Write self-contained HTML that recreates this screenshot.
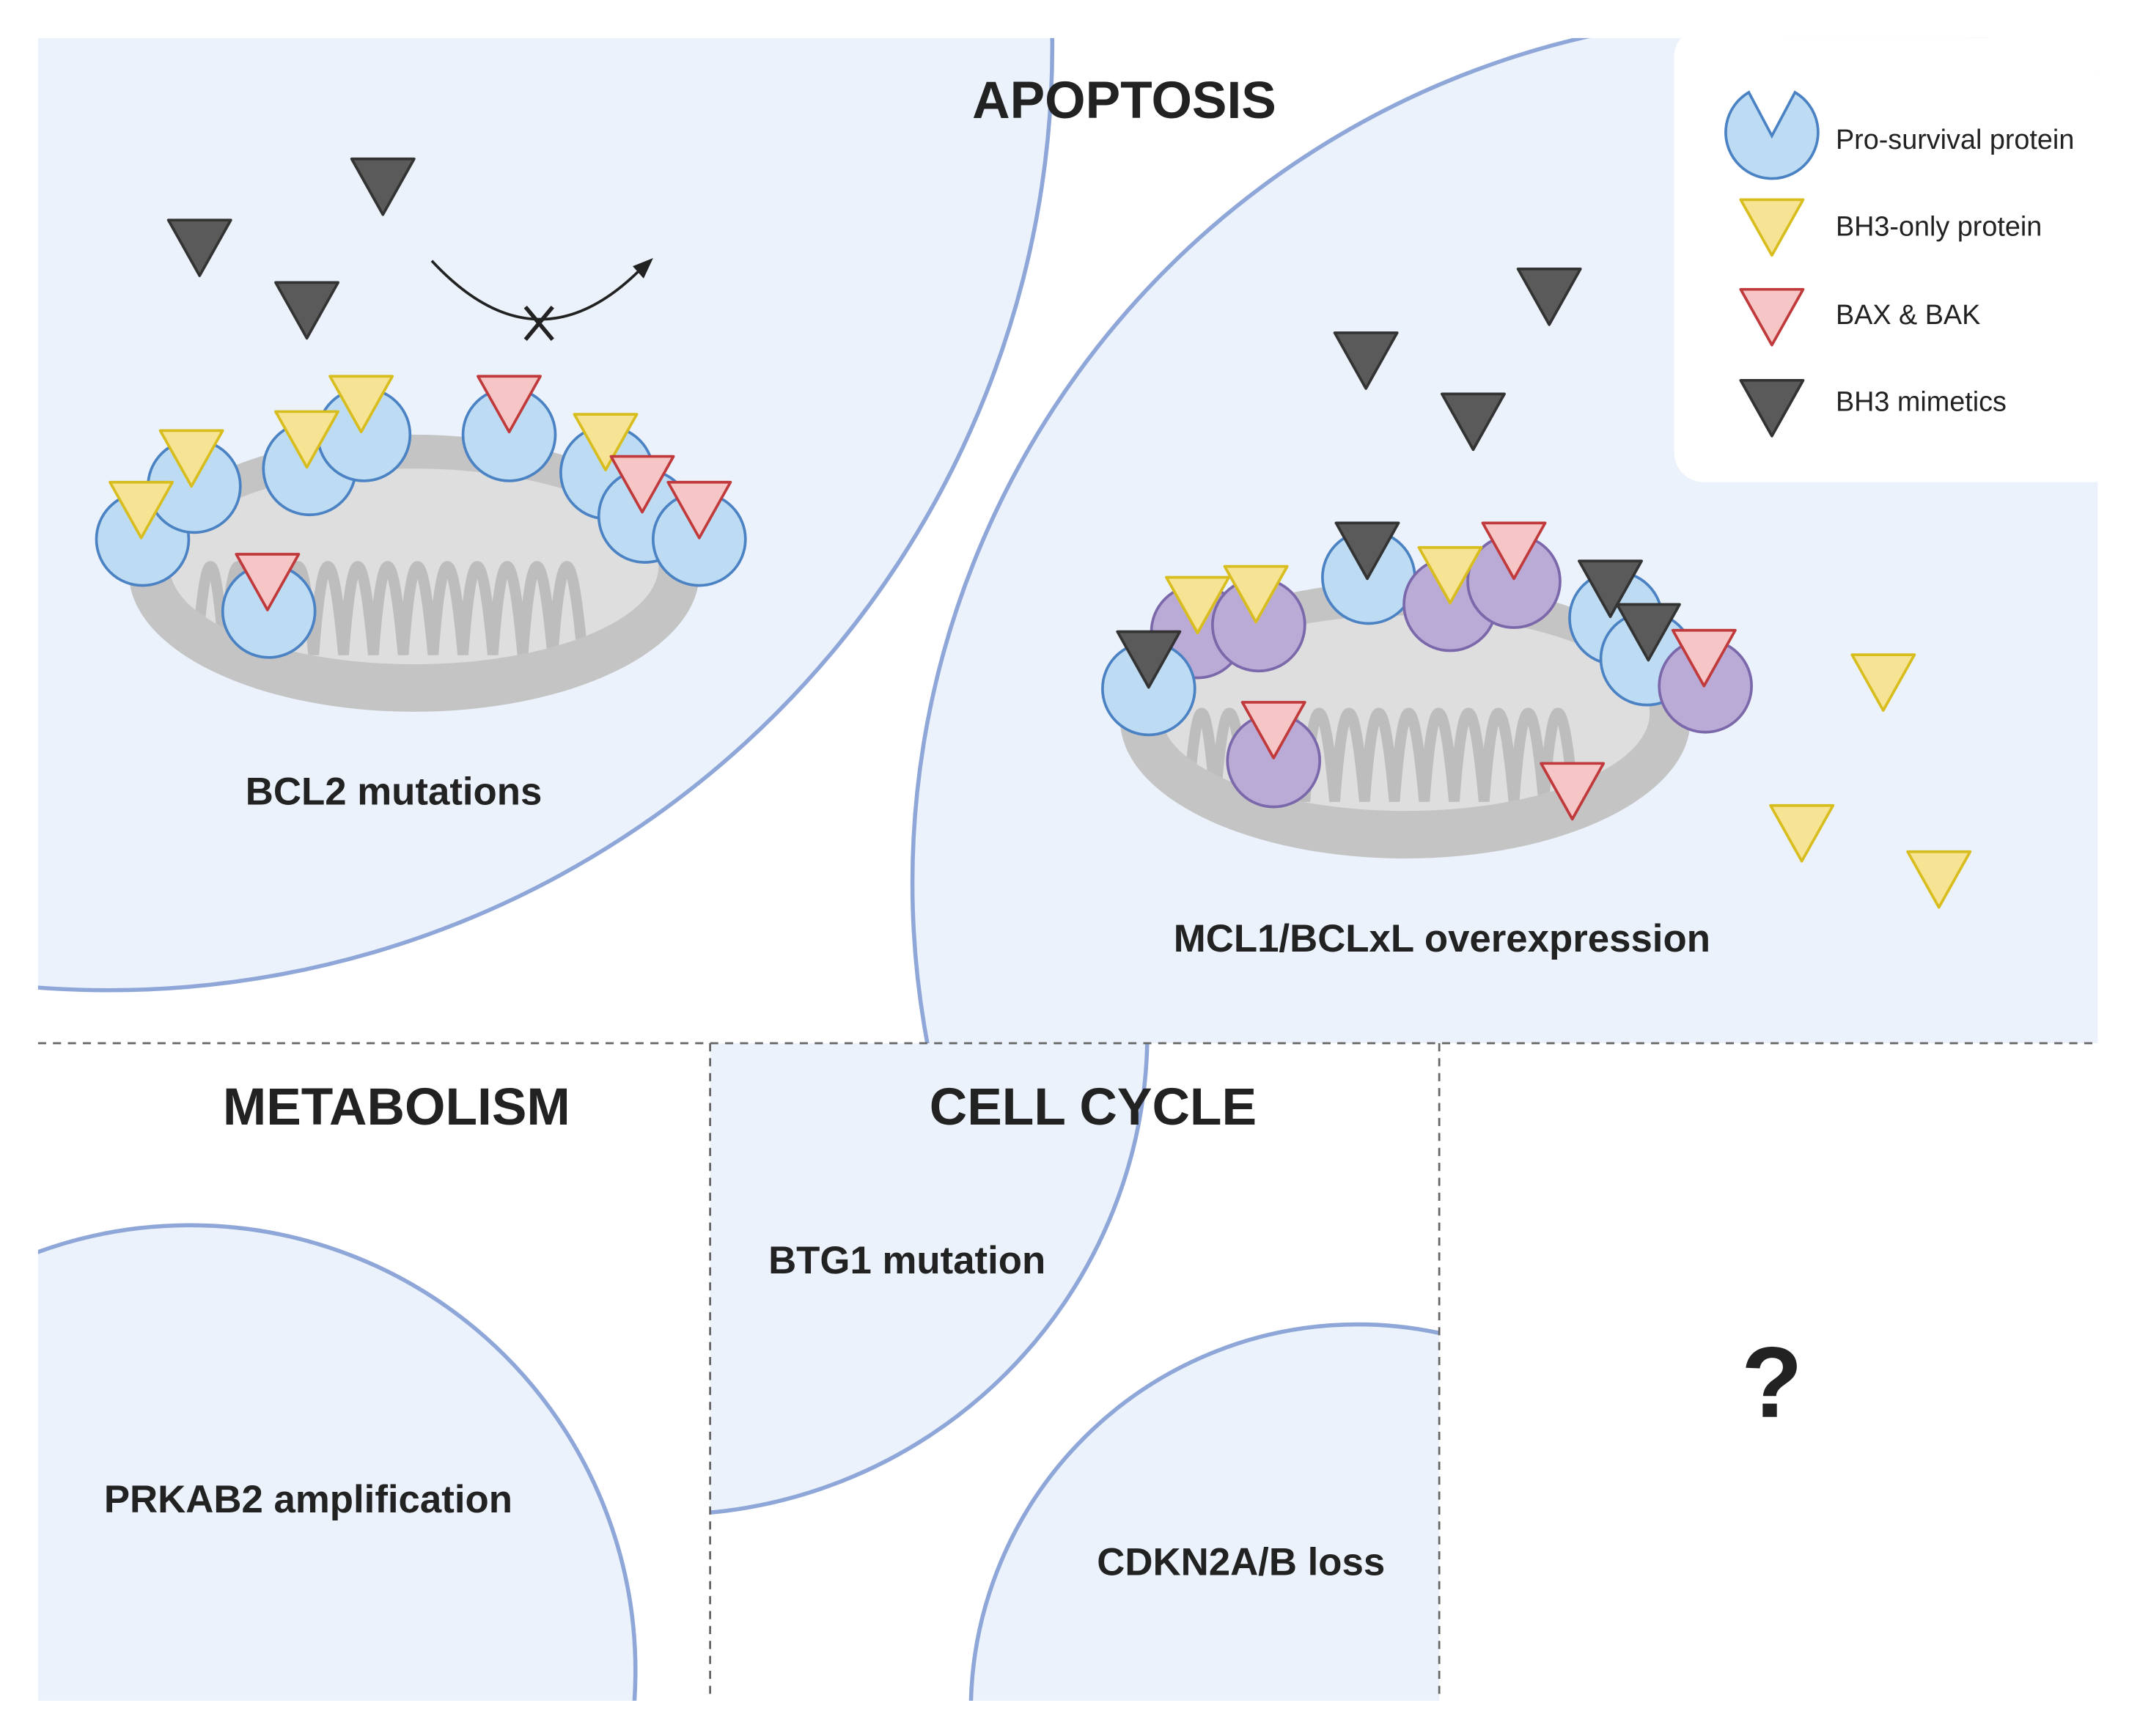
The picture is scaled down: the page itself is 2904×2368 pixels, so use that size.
<!DOCTYPE html>
<html><head><meta charset="utf-8"><style>
html,body{margin:0;padding:0;background:#fff;overflow:hidden;width:2904px;height:2368px;position:relative}
svg{display:block;position:absolute;left:0;top:0}
text{font-family:"Liberation Sans",sans-serif;font-weight:bold;fill:#222;text-anchor:middle;dominant-baseline:central}
</style></head><body>
<svg width="2904" height="2368" viewBox="0 0 1568 1278" preserveAspectRatio="none" xmlns="http://www.w3.org/2000/svg">
<defs>
<clipPath id="top"><rect x="28" y="28" width="1517" height="740"/></clipPath>
<clipPath id="bl"><rect x="28" y="768" width="495" height="484"/></clipPath>
<clipPath id="bc"><rect x="523" y="768" width="537" height="484"/></clipPath>
<clipPath id="mc"><ellipse cx="0" cy="-5" rx="180" ry="72"/></clipPath>
<g id="ty"><polygon points="-23,-20 23,-20 0,21" fill="#f6e393" stroke="#d8bd1e" stroke-width="2" stroke-linejoin="round"/></g>
<g id="tr"><polygon points="-23,-20 23,-20 0,21" fill="#f6c6c6" stroke="#c0393b" stroke-width="2" stroke-linejoin="round"/></g>
<g id="td"><polygon points="-23,-20 23,-20 0,21" fill="#5a5a5a" stroke="#333" stroke-width="2" stroke-linejoin="round"/></g>
<g id="cb"><circle r="34" fill="#bddcf3" stroke="#4b82c3" stroke-width="2"/></g>
<g id="cp"><circle r="34" fill="#b9aad6" stroke="#7b68aa" stroke-width="2"/></g>
<g id="mito">
<ellipse cx="0" cy="0" rx="210" ry="102" fill="#c4c4c4"/>
<ellipse cx="0" cy="-5" rx="180" ry="72" fill="#dedede"/>
<g clip-path="url(#mc)">
<path d="M-160,60 q10,-130 20,0 q10,-130 22,0 q10,-130 22,0 q10,-130 22,0 q10,-130 22,0 q10,-130 22,0 q10,-130 22,0 q10,-130 22,0 q10,-130 22,0 q10,-130 22,0 q10,-130 22,0 q10,-130 22,0 q10,-130 22,0" fill="none" stroke="#bdbdbd" stroke-width="8" stroke-linecap="round"/>
</g>
</g>
</defs>

<g clip-path="url(#top)">
<circle cx="80" cy="34" r="695" fill="#ebf2fb" stroke="#8ea7d8" stroke-width="3"/>
<circle cx="1311" cy="650" r="639" fill="#ebf2fb" stroke="#8ea7d8" stroke-width="3"/>
<rect x="1311" y="28" width="240" height="740" fill="#ebf2fb"/>
<rect x="1233" y="20" width="330" height="335" rx="22" fill="#fff"/>
</g>
<g clip-path="url(#bl)"><circle cx="140" cy="1230" r="328" fill="#ebf2fb" stroke="#8ea7d8" stroke-width="3"/></g>
<g clip-path="url(#bc)">
<circle cx="490" cy="760" r="355" fill="#ebf2fb" stroke="#8ea7d8" stroke-width="3"/>
<circle cx="1000" cy="1260" r="285" fill="#ebf2fb" stroke="#8ea7d8" stroke-width="3"/>
</g>
<g stroke="#666" stroke-width="1.5" stroke-dasharray="6,5" fill="none">
<line x1="28" y1="768" x2="1545" y2="768"/>
<line x1="523" y1="768" x2="523" y2="1252"/>
<line x1="1060" y1="768" x2="1060" y2="1252"/>
</g>

<use href="#mito" transform="translate(305,422)"/>
<use href="#cb" x="105" y="397"/><use href="#cb" x="143" y="358"/><use href="#cb" x="228" y="345"/><use href="#cb" x="268" y="320"/>
<use href="#cb" x="375" y="320"/><use href="#cb" x="447" y="348"/><use href="#cb" x="475" y="380"/><use href="#cb" x="515" y="397"/><use href="#cb" x="198" y="450"/>
<use href="#ty" x="104" y="375"/><use href="#ty" x="141" y="337"/><use href="#ty" x="226" y="323"/><use href="#ty" x="266" y="297"/><use href="#ty" x="446" y="325"/>
<use href="#tr" x="375" y="297"/><use href="#tr" x="473" y="356"/><use href="#tr" x="515" y="375"/><use href="#tr" x="197" y="428"/>
<use href="#td" x="147" y="182"/><use href="#td" x="282" y="137"/><use href="#td" x="226" y="228"/>
<path d="M318,192 Q395,275 472,198" fill="none" stroke="#222" stroke-width="2"/>
<polygon points="481,190 466,196 474,205" fill="#222"/>
<path d="M387,226 L407,250 M407,226 L387,250" stroke="#222" stroke-width="3"/>

<use href="#mito" transform="translate(1035,530)"/>
<use href="#cp" x="882" y="465"/><use href="#cb" x="846" y="507"/><use href="#cp" x="927" y="460"/><use href="#cb" x="1008" y="425"/>
<use href="#cp" x="1068" y="445"/><use href="#cp" x="1115" y="428"/><use href="#cb" x="1190" y="455"/><use href="#cb" x="1213" y="485"/>
<use href="#cp" x="1256" y="505"/><use href="#cp" x="938" y="560"/>
<use href="#td" x="846" y="485"/><use href="#td" x="1007" y="405"/><use href="#td" x="1186" y="433"/><use href="#td" x="1214" y="465"/>
<use href="#ty" x="882" y="445"/><use href="#ty" x="925" y="437"/><use href="#ty" x="1068" y="423"/>
<use href="#ty" x="1387" y="502"/><use href="#ty" x="1327" y="613"/><use href="#ty" x="1428" y="647"/>
<use href="#tr" x="1115" y="405"/><use href="#tr" x="1255" y="484"/><use href="#tr" x="938" y="537"/><use href="#tr" x="1158" y="582"/>
<use href="#td" x="1006" y="265"/><use href="#td" x="1141" y="218"/><use href="#td" x="1085" y="310"/>

<path d="M1288,68 A34,34 0 1 0 1322,68 L1305,100 Z" fill="#bddcf3" stroke="#4b82c3" stroke-width="2"/>
<use href="#ty" x="1305" y="167"/><use href="#tr" x="1305" y="233"/><use href="#td" x="1305" y="300"/>
<text x="1352" y="103" style="font-weight:normal;text-anchor:start;font-size:20.4px">Pro-survival protein</text>
<text x="1352" y="167" style="font-weight:normal;text-anchor:start;font-size:20.4px">BH3-only protein</text>
<text x="1352" y="232" style="font-weight:normal;text-anchor:start;font-size:20.4px">BAX &amp; BAK</text>
<text x="1352" y="296" style="font-weight:normal;text-anchor:start;font-size:20.4px">BH3 mimetics</text>

<text x="828" y="74" font-size="38.5">APOPTOSIS</text>
<text x="290" y="583" font-size="28.5">BCL2 mutations</text>
<text x="1062" y="691" font-size="28.5">MCL1/BCLxL overexpression</text>
<text x="292" y="815" font-size="38.5">METABOLISM</text>
<text x="805" y="815" font-size="38.5">CELL CYCLE</text>
<text x="668" y="928" font-size="28.5">BTG1 mutation</text>
<text x="227" y="1104" font-size="28.5">PRKAB2 amplification</text>
<text x="914" y="1150" font-size="28.5">CDKN2A/B loss</text>
<text x="1305" y="1018" font-size="74">?</text>
</svg>
</body></html>
